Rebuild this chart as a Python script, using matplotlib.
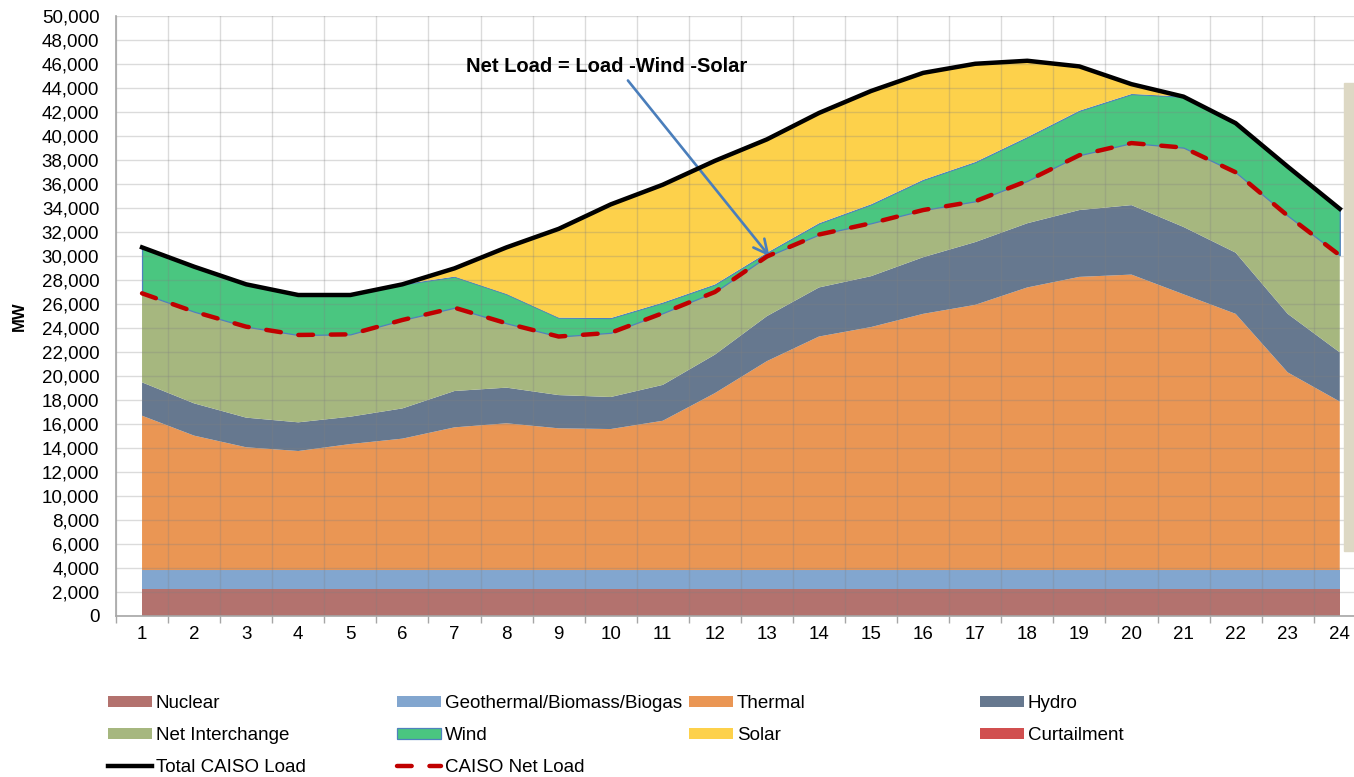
# CAISO hourly supply stack vs load / net load
import numpy as np
import matplotlib.pyplot as plt
from matplotlib.patches import Rectangle
from matplotlib.ticker import FuncFormatter, MultipleLocator

plt.rcParams['font.family'] = ['Liberation Sans', 'DejaVu Sans']

# --- DATA (MW) ---
hours = list(range(1, 25))
nuclear = [2250] * 24
geothermal = [1580] * 24
thermal = [12860, 11200, 10230, 9920, 10500, 10950, 11890, 12230, 11810, 11750, 12440, 14740,
           17410, 19460, 20250, 21350, 22100, 23550, 24430, 24620, 22980, 21350, 16470, 14040]
hydro = [2780, 2690, 2470, 2390, 2280, 2520, 3030, 2970, 2770, 2670, 2990, 3210,
         3750, 4090, 4240, 4720, 5230, 5350, 5570, 5790, 5610, 5100, 4880, 4100]
interchange = [7420, 7640, 7580, 7280, 6860, 7370, 6940, 5360, 4880, 5350, 5980, 5220,
               4970, 4410, 4410, 3930, 3400, 3530, 4570, 5170, 6610, 6700, 8180, 8090]
wind = [3830, 3750, 3530, 3330, 3280, 2970, 2590, 2440, 1570, 1230, 880, 630,
        320, 940, 1580, 2520, 3270, 3650, 3710, 4090, 4250, 4090, 4090, 3870]
solar = [0, 0, 0, 0, 0, 0, 690, 3890, 7400, 9470, 9820, 10300,
         9440, 9190, 9440, 8910, 8190, 6360, 3690, 820, 0, 0, 0, 0]
curtailment = [0] * 24
total_load = [30720, 29110, 27640, 26750, 26750, 27640, 28970, 30720, 32260, 34300, 35940, 37930,
              39720, 41920, 43750, 45260, 46020, 46270, 45800, 44320, 43280, 41070, 37450, 33930]
net_load = [26890, 25360, 24110, 23420, 23470, 24670, 25690, 24390, 23290, 23600, 25240, 27000,
            29960, 31790, 32730, 33830, 34560, 36260, 38400, 39410, 39030, 36980, 33360, 30060]

labels = ['Nuclear', 'Geothermal/Biomass/Biogas', 'Thermal', 'Hydro',
          'Net Interchange', 'Wind', 'Solar', 'Curtailment']
colors = ['#B3726E', '#82A6CF', '#EA9654', '#66788F',
          '#A6B77F', '#4AC680', '#FDD14B', '#D14F4F']

# --- FIGURE ---
W, H = 1354, 777
fig = plt.figure(figsize=(W / 100, H / 100), dpi=100)
ax = fig.add_axes([116 / W, 161 / H, (1365.8 - 116) / W, 600 / H])

polys = ax.stackplot(hours, nuclear, geothermal, thermal, hydro, interchange,
                     wind, solar, curtailment, colors=colors, labels=labels,
                     linewidth=0)
polys[5].set_edgecolor('#4F81BD')
polys[5].set_linewidth(0.9)

l_total, = ax.plot(hours, total_load, color='black', lw=3.2,
                   solid_joinstyle='round', label='Total CAISO Load', zorder=4)
l_net, = ax.plot(hours, net_load, color='#C00000', lw=3.2, ls=(0, (3.3, 4)),
                 dash_capstyle='round', label='CAISO Net Load', zorder=4)

# annotation
ax.annotate('Net Load = Load -Wind -Solar', xy=(13.05, 29970), xytext=(9.93, 45830),
            ha='center', va='center', fontsize=14.5, fontweight='bold',
            arrowprops=dict(arrowstyle='->,head_length=0.7,head_width=0.35',
                            color='#4A7EBB', lw=1.9, relpos=(0.56, 0.0),
                            shrinkA=2, shrinkB=0))

# --- AXES ---
ax.set_xlim(0.5, 24.5)
ax.set_ylim(0, 50000)
ax.yaxis.set_major_locator(MultipleLocator(2000))
ax.yaxis.set_major_formatter(FuncFormatter(lambda v, p: f'{v:,.0f}'))
ax.set_xticks(hours)
ax.set_xticks(np.arange(0.5, 25, 1), minor=True)
ax.tick_params(axis='x', which='major', length=0, pad=7, labelsize=13.5)
ax.tick_params(axis='x', which='minor', length=5, color='#A6A6A6', width=1)
ax.tick_params(axis='y', length=0, pad=12, labelsize=13.5)

ax.set_axisbelow('line')
ax.grid(True, axis='y', which='major', color='#808080', alpha=0.28, lw=1)
ax.grid(True, axis='x', which='minor', color='#808080', alpha=0.28, lw=1)
for s in ['top', 'right']:
    ax.spines[s].set_visible(False)
for s in ['left', 'bottom']:
    ax.spines[s].set_color('#A6A6A6')
    ax.spines[s].set_linewidth(1.2)

ax.set_ylabel('MW', fontsize=12, fontweight='bold', labelpad=11)

# --- LEGEND (4 fixed columns like Excel) ---
cols = [
    (108, [polys[0], polys[4], l_total]),
    (397, [polys[1], polys[5], l_net]),
    (689, [polys[2], polys[6]]),
    (980, [polys[3], polys[7]]),
]
for x0, hs in cols:
    leg = fig.legend(handles=hs, labels=[h.get_label() for h in hs],
                     loc='upper left', bbox_to_anchor=(x0 / W, 1 - 695 / H),
                     bbox_transform=fig.transFigure, frameon=False,
                     fontsize=13.5, borderpad=0, borderaxespad=0,
                     handlelength=2.35, handleheight=0.55, handletextpad=0.2,
                     labelspacing=0.81)

# beige strip at the right edge
fig.add_artist(Rectangle((1344 / W, 1 - 551 / H), 10 / W, (551 - 83) / H,
                         transform=fig.transFigure, color='#DDD8C4', zorder=10))

plt.savefig('out.png', dpi=100)
